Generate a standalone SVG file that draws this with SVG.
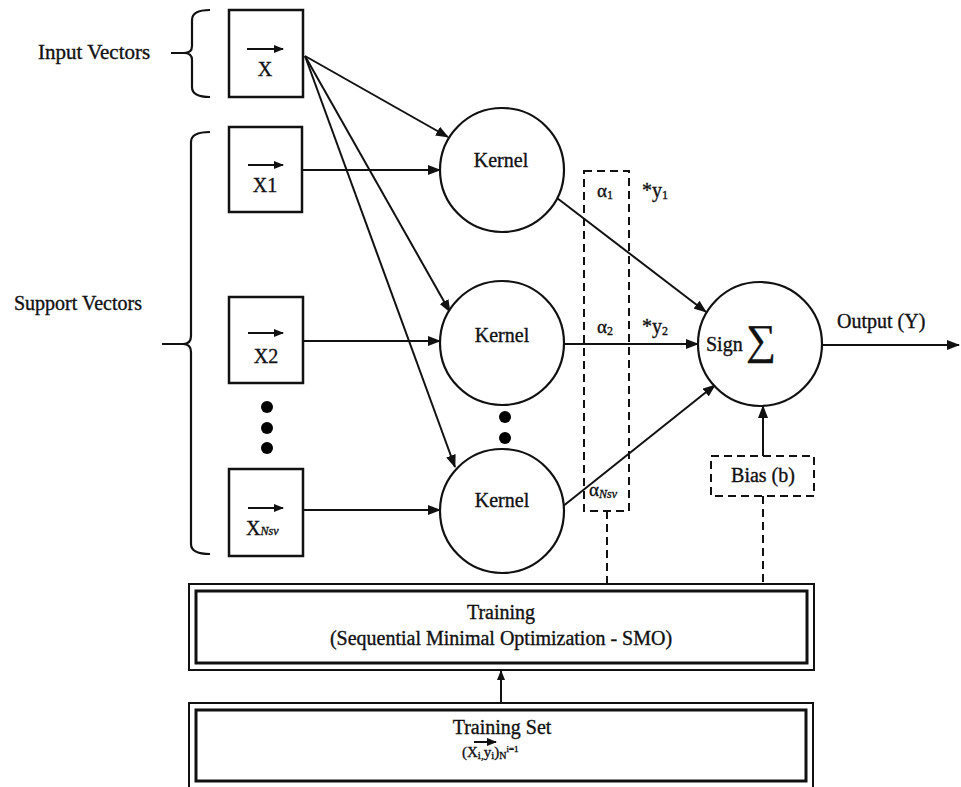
<svg xmlns="http://www.w3.org/2000/svg" width="961" height="787" viewBox="0 0 961 787">
<style>
  text { font-family: "Liberation Serif", "Times New Roman", serif; fill: #111; stroke: #111; stroke-width: 0.35; }
  .lbl { font-size: 20px; }
  .big { font-size: 21px; }
  .sm { font-size: 19px; }
  .sub { font-size: 12px; }
  .box { fill: #fff; stroke: #111; stroke-width: 2.5; }
  .circ { fill: #fff; stroke: #111; stroke-width: 2.2; }
  .ln { fill: none; stroke: #111; stroke-width: 2; }
  .dash { fill: none; stroke: #111; stroke-width: 2; stroke-dasharray: 8 5; }
  .brace { fill: none; stroke: #111; stroke-width: 2.2; }
  .dot { fill: #000; }
</style>
<defs>
  <marker id="ah" viewBox="0 0 13 10" refX="12" refY="5" markerWidth="13" markerHeight="10" markerUnits="userSpaceOnUse" orient="auto">
    <path d="M0,0 L13,5 L0,10 z" fill="#111"/>
  </marker>
  <marker id="vh" viewBox="0 0 10 8" refX="9" refY="4" markerWidth="10" markerHeight="8" markerUnits="userSpaceOnUse" orient="auto">
    <path d="M0,0 L10,4 L0,8 z" fill="#111"/>
  </marker>
</defs>
<rect width="961" height="787" fill="#fff"/>

<!-- Braces and group labels -->
<g id="input-vectors-label">
  <path class="brace" d="M210,10 Q192,10 192,20 L192,46 Q192,53 184,53 L171,53 M184,53 Q192,53 192,60 L192,87 Q192,97 210,97"/>
  <text class="big" x="38" y="59">Input Vectors</text>
</g>
<g id="support-vectors-label">
  <path class="brace" d="M210,132 Q191,132 191,142 L191,336 Q191,344 183,344 L162,344 M183,344 Q191,344 191,352 L191,544 Q191,554 210,554"/>
  <text class="lbl" x="14" y="310">Support Vectors</text>
</g>

<!-- Connectors -->
<g id="connectors">
  <line class="ln" x1="305" y1="56" x2="448" y2="137" marker-end="url(#ah)"/>
  <line class="ln" x1="305" y1="56" x2="450" y2="312" marker-end="url(#ah)"/>
  <line class="ln" x1="305" y1="56" x2="455" y2="467" marker-end="url(#ah)"/>
  <line class="ln" x1="302" y1="170" x2="440" y2="170" marker-end="url(#ah)"/>
  <line class="ln" x1="303" y1="341" x2="440" y2="341" marker-end="url(#ah)"/>
  <line class="ln" x1="303" y1="510" x2="440" y2="510" marker-end="url(#ah)"/>
  <line class="ln" x1="557" y1="198" x2="706" y2="312" marker-end="url(#ah)"/>
  <line class="ln" x1="564" y1="344" x2="698" y2="344" marker-end="url(#ah)"/>
  <line class="ln" x1="562" y1="507" x2="715" y2="385" marker-end="url(#ah)"/>
  <line class="ln" x1="822" y1="345" x2="959" y2="345" marker-end="url(#ah)"/>
  <line class="ln" x1="763" y1="456" x2="763" y2="406" marker-end="url(#ah)"/>
  <line class="ln" x1="501" y1="703" x2="501" y2="671" marker-end="url(#vh)"/>
  <line class="dash" x1="607" y1="511" x2="607" y2="584"/>
  <line class="dash" x1="763" y1="496" x2="763" y2="584"/>
</g>

<!-- Input vector -->
<g id="x-input">
  <rect class="box" x="229" y="10" width="74" height="87"/>
  <line class="ln" x1="247" y1="49" x2="283" y2="49" marker-end="url(#vh)"/>
  <text class="lbl" x="265" y="76" text-anchor="middle">X</text>
</g>

<g id="x1">
  <rect class="box" x="229" y="127" width="73" height="85"/>
  <line class="ln" x1="248" y1="165" x2="283" y2="165" marker-end="url(#vh)"/>
  <text class="lbl" x="265" y="192" text-anchor="middle">X1</text>
</g>

<g id="x2">
  <rect class="box" x="229" y="297" width="74" height="86"/>
  <line class="ln" x1="248" y1="333" x2="283" y2="333" marker-end="url(#vh)"/>
  <text class="lbl" x="266" y="363" text-anchor="middle">X2</text>
</g>

<g id="sv-dots">
  <circle class="dot" cx="267" cy="407" r="6"/>
  <circle class="dot" cx="267" cy="428" r="6"/>
  <circle class="dot" cx="267" cy="448" r="6"/>
</g>

<g id="xnsv">
  <rect class="box" x="229" y="469" width="74" height="87"/>
  <line class="ln" x1="248" y1="508" x2="283" y2="508" marker-end="url(#vh)"/>
  <text class="lbl" x="246" y="535">X<tspan class="sub" font-style="italic">Nsv</tspan></text>
</g>

<!-- Kernels -->
<g id="kernel1">
  <circle class="circ" cx="502" cy="170" r="62"/>
  <text class="lbl" x="501" y="167" text-anchor="middle">Kernel</text>
</g>
<g id="kernel2">
  <circle class="circ" cx="502" cy="343" r="62"/>
  <text class="lbl" x="502" y="342" text-anchor="middle">Kernel</text>
</g>
<g id="kernel-dots">
  <circle class="dot" cx="505" cy="417" r="6"/>
  <circle class="dot" cx="505" cy="438" r="6"/>
</g>
<g id="kernel3">
  <circle class="circ" cx="502" cy="511" r="62"/>
  <text class="lbl" x="502" y="507" text-anchor="middle">Kernel</text>
</g>

<!-- Alpha weights -->
<g id="alphas">
  <rect class="dash" x="584" y="171" width="45" height="340"/>
  <text class="sm" x="597" y="197">α<tspan class="sub" dy="2">1</tspan></text>
  <text class="sm" x="597" y="333">α<tspan class="sub" dy="2">2</tspan></text>
  <text class="sm" x="589" y="496">α<tspan class="sub" font-style="italic" dy="2">Nsv</tspan></text>
</g>
<g id="y-labels">
  <text class="lbl" x="642" y="197">*y<tspan class="sub" dy="2">1</tspan></text>
  <text class="lbl" x="642" y="333">*y<tspan class="sub" dy="2">2</tspan></text>
</g>

<!-- Sign sum -->
<g id="sign-sum">
  <circle class="circ" cx="760" cy="344" r="62"/>
  <text class="lbl" x="706" y="351">Sign</text>
  <text x="746" y="354" font-size="42" stroke-width="0">∑</text>
</g>
<g id="output-label">
  <text class="lbl" x="837" y="328">Output (Y)</text>
</g>

<g id="bias">
  <rect class="dash" x="711" y="456" width="103" height="40"/>
  <text class="lbl" x="763" y="482" text-anchor="middle">Bias (b)</text>
</g>

<!-- Training -->
<g id="training">
  <rect x="189" y="584" width="625" height="86" fill="#fff" stroke="#111" stroke-width="2"/>
  <rect x="196" y="591" width="611" height="72" fill="none" stroke="#111" stroke-width="3"/>
  <text class="lbl" x="501" y="619" text-anchor="middle">Training</text>
  <text class="lbl" x="501" y="645" text-anchor="middle">(Sequential Minimal Optimization - SMO)</text>
</g>

<g id="training-set">
  <rect x="189" y="703" width="624" height="90" fill="#fff" stroke="#111" stroke-width="2"/>
  <rect x="196" y="710" width="610" height="71" fill="none" stroke="#111" stroke-width="3"/>
  <text class="lbl" x="502" y="734" text-anchor="middle">Training Set</text>
  <line class="ln" x1="474" y1="742" x2="496" y2="742" marker-end="url(#vh)"/>
  <text x="462" y="757" font-size="15">(X<tspan font-size="11" dy="2">i,</tspan><tspan dy="-2">y</tspan><tspan font-size="11" dy="2">i</tspan><tspan dy="-2">)</tspan><tspan font-size="10" dy="2">N</tspan><tspan font-size="9" dy="-7">i=1</tspan></text>
</g>
</svg>
